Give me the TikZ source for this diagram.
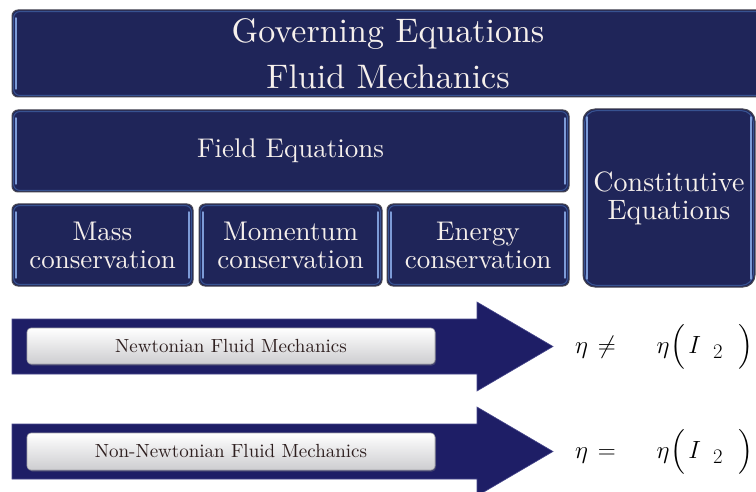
\documentclass[tikz,border=0pt]{standalone}
\usepackage{fontspec}
\usepackage{amsmath}
\usetikzlibrary{shadows}
% the 10pt design keeps its width and weight when set large
\setmainfont{lmroman10-regular.otf}

\definecolor{navy}{RGB}{31,37,89}
\definecolor{rimblue}{RGB}{55,82,145}
\definecolor{hlblue}{RGB}{125,155,215}
\definecolor{boxline}{RGB}{70,70,82}
\definecolor{arrowblue}{RGB}{30,30,102}
\definecolor{arrowedge}{RGB}{72,72,140}
\definecolor{capwhite}{RGB}{246,240,236}
\definecolor{labeltext}{RGB}{45,30,30}
\definecolor{labelfill}{RGB}{205,205,208}
\definecolor{labeledge}{RGB}{165,165,170}

\tikzset{
  gbox/.style={rectangle, rounded corners=#1, fill=navy, draw=boxline,
    line width=1pt, text=capwhite, align=center, inner sep=0pt,
    path picture={
      \draw[rimblue, line width=1.1pt, rounded corners=#1]
        ([shift={(1.6pt,1.6pt)}]path picture bounding box.south west) rectangle
        ([shift={(-1.6pt,-1.6pt)}]path picture bounding box.north east);
      \draw[hlblue, line width=1.5pt, line cap=round]
        ([shift={(4pt,-8pt)}]path picture bounding box.north west) --
        ([shift={(4pt,8pt)}]path picture bounding box.south west);
      \draw[hlblue, line width=1.5pt, line cap=round]
        ([shift={(-4pt,-8pt)}]path picture bounding box.north east) --
        ([shift={(-4pt,8pt)}]path picture bounding box.south east);
    }},
  gbox/.default=6pt,
  bigtxt/.style={font=\fontsize{34}{46}\selectfont},
  midtxt/.style={font=\fontsize{27}{28}\selectfont},
  flowarrow/.style={fill=arrowblue, draw=arrowedge, line width=0.6pt, line join=miter},
  lbox/.style={rectangle, rounded corners=4pt, top color=white, bottom color=labelfill,
    draw=labeledge, line width=0.6pt, minimum width=408pt, inner sep=0pt,
    text=labeltext, font=\fontsize{19}{21}\selectfont,
    drop shadow={shadow xshift=1pt, shadow yshift=-1.5pt, opacity=0.35}},
  eqtxt/.style={font=\fontsize{28}{30}\selectfont, text=black}
}

\begin{document}
\begin{tikzpicture}[x=1pt,y=-1pt]
  \useasboundingbox (0,0) rectangle (756,492);
  \clip (0,0) rectangle (756,492);
  \fill[white] (0,0) rectangle (756,492);

  % heading band
  \node[gbox, bigtxt, minimum width=752pt, minimum height=87pt] (top) at (388,53.5)
    {Governing Equations\\Fluid Mechanics};

  % field equations and the three conservation laws
  \node[gbox, midtxt, minimum width=557pt, minimum height=82pt] (field) at (290.5,151)
    {Field Equations};
  \node[gbox, midtxt, minimum width=181pt, minimum height=82pt] (mass) at (102.5,245)
    {Mass\\conservation};
  \node[gbox, midtxt, minimum width=183pt, minimum height=82pt] (momentum) at (290.5,245)
    {Momentum\\conservation};
  \node[gbox, midtxt, minimum width=182pt, minimum height=82pt] (energy) at (478,245)
    {Energy\\conservation};

  % constitutive equations
  \node[gbox=12pt, midtxt, font=\fontsize{28}{28}\selectfont,
        minimum width=172pt, minimum height=178pt] (constit) at (669,198)
    {Constitutive\\Equations};

  % flow arrows
  \coordinate (tipA) at (553,346.5);
  \coordinate (tipB) at (553,451.5);
  \draw[flowarrow] (12,319) -- (477,319) -- (477,302) -- (tipA) -- (477,391)
    -- (477,374) -- (12,374) -- cycle;
  \draw[flowarrow] (12,424) -- (477,424) -- (477,407) -- (tipB) -- (477,496)
    -- (477,479) -- (12,479) -- cycle;

  \node[lbox, minimum height=36pt] (newt) at (231,346) {Newtonian Fluid Mechanics};
  \node[lbox, minimum height=37pt] (nonnewt) at (231,451.5) {Non-Newtonian Fluid Mechanics};

  % viscosity relations
  \node[eqtxt] (eqA) at (664,347)
    {$\eta\hspace{3pt}\neq\hspace{34pt}\eta\hspace{1pt}\Bigl(\hspace{3pt}I\hspace{12pt}{}_{2}\hspace{15pt}\Bigr)$};
  \node[eqtxt] (eqB) at (664,452)
    {$\eta\hspace{3pt}=\hspace{34pt}\eta\hspace{1pt}\Bigl(\hspace{3pt}I\hspace{12pt}{}_{2}\hspace{15pt}\Bigr)$};
\end{tikzpicture}
\end{document}
